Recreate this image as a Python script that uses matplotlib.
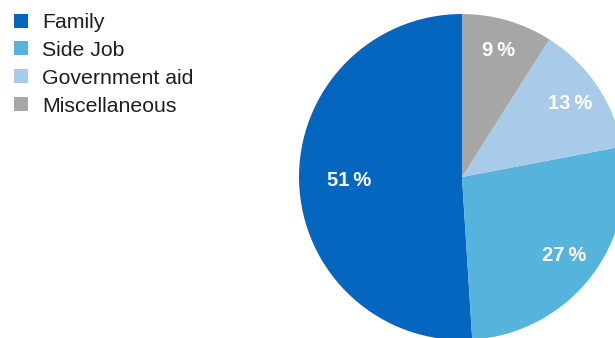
import matplotlib.pyplot as plt
import numpy as np

plt.rcParams['font.family'] = ['Liberation Sans', 'DejaVu Sans']

# income sources, share in percent
sources = ['Family', 'Side Job', 'Government aid', 'Miscellaneous']
shares = [51, 27, 13, 9]
colors = ['#0566c0', '#55b3dc', '#a7cbe9', '#a6a6a6']

# how far out each percent label sits (fraction of radius)
label_radius = [0.69, 0.79, 0.80, 0.81]

W, H = 615, 338
fig = plt.figure(figsize=(W / 100, H / 100), dpi=100)
ax = fig.add_axes([0, 0, 1, 1])

cx, cy, r = 462, 177, 163
wedges, _ = ax.pie(shares, colors=colors, startangle=90, counterclock=True,
                   radius=1, wedgeprops=dict(linewidth=0))

for w, val, d in zip(wedges, shares, label_radius):
    mid = np.deg2rad((w.theta1 + w.theta2) / 2)
    ax.text(d * np.cos(mid), d * np.sin(mid), f'{val}\u2009%',
            ha='center', va='center', color='white',
            fontsize=14.5, fontweight='bold')

ax.set_xlim(-cx / r, (W - cx) / r)
ax.set_ylim((cy - H) / r, cy / r)
ax.set_aspect('auto')
ax.axis('off')

leg = ax.legend(wedges, sources, loc='upper left',
                bbox_to_anchor=(14 / W, 1 - 13 / H), bbox_transform=fig.transFigure,
                frameon=False, fontsize=15.3, borderpad=0, borderaxespad=0,
                handlelength=0.64, handleheight=0.64, handletextpad=0.68,
                labelspacing=0.42)
for t in leg.get_texts():
    t.set_color('#1e1e1e')

fig.savefig('out.png', dpi=100)
